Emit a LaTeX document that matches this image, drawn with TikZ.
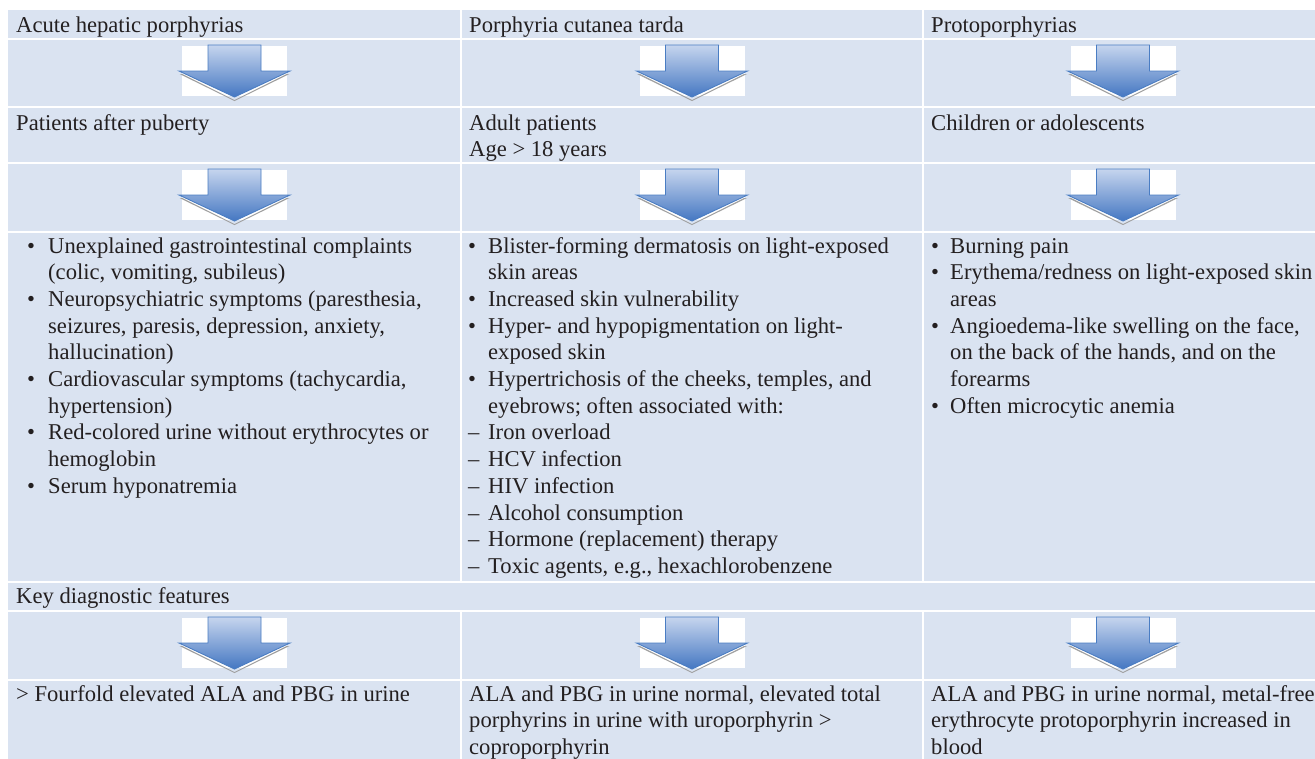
\documentclass[tikz,border=0pt]{standalone}
\usepackage{fontspec}
\setmainfont{Liberation Serif}
\definecolor{bg}{HTML}{DAE3F1}
\definecolor{ink}{HTML}{231F20}
\definecolor{arrline}{HTML}{4A7DC3}
\definecolor{arrtop}{HTML}{C6D5EE}
\definecolor{arrbot}{HTML}{4477C2}
\definecolor{shad}{HTML}{A0A0A0}
\tikzset{
  txt/.style={anchor=base west, inner sep=0pt, text=ink, font=\fontsize{22.6}{26.7}\selectfont},
  gridline/.style={draw=white, line width=2pt},
  whitebox/.style={fill=white},
  arrowbody/.style={draw=arrline, line width=0.9pt, line join=miter, top color=arrtop, bottom color=arrbot},
  arrowshadow/.style={fill=shad},
}
\newcommand\flowarrow[2]{%
  \fill[whitebox] (#1-52.5,#2+7) rectangle (#1+52.5,#2+57);
  \fill[arrowshadow] (#1-55,#2+35) -- (#1-52,#2+35) -- (#1,#2+61) -- (#1+52,#2+35) -- (#1+55,#2+35) -- (#1,#2+62) -- cycle;
  \path[arrowbody] (#1-26.5,#2+6) -- (#1+26.5,#2+6) -- (#1+26.5,#2+32) -- (#1+55.5,#2+32)
     -- (#1,#2+58) -- (#1-55.5,#2+32) -- (#1-26.5,#2+32) -- cycle;
}
\begin{document}
\begin{tikzpicture}[x=1pt,y=-1pt]
\useasboundingbox (0,0) rectangle (1315,758);
\begin{scope}
\clip (0,0) rectangle (1315,758);
% table background
\fill[bg] (8,10) rectangle (1340,780);
% horizontal grid lines
\foreach \yy in {39,107,163,232,582,611,680}
  {\draw[gridline] (8,\yy) -- (1340,\yy);}
% vertical grid lines
\foreach \xx in {461,923} {
  \draw[gridline] (\xx,10) -- (\xx,582);
  \draw[gridline] (\xx,611) -- (\xx,780);
}
% arrows
\foreach \cx in {234.5,692,1123} {
  \foreach \rowtop in {39,163,611} {
    \flowarrow{\cx}{\rowtop}
  }
}
\end{scope}

% row 1
\node[txt] (h1) at (16,32) {Acute hepatic porphyrias};
\node[txt] (h2) at (469,32) {Porphyria cutanea tarda};
\node[txt] (h3) at (931,32) {Protoporphyrias};
% row 3
\node[txt] (p1) at (16,130) {Patients after puberty};
\node[txt] (p2a) at (469,130) {Adult patients};
\node[txt] (p2b) at (469,156.7) {Age > 18 years};
\node[txt] (p3) at (931,130) {Children or adolescents};

% column 1 bullets
\node[txt] (a1b) at (27,253) {•};
\node[txt] (a1) at (48,253) {Unexplained gastrointestinal complaints};
\node[txt] (a2) at (48,253+26.7) {(colic, vomiting, subileus)};
\node[txt] (a3b) at (27,253+26.7*2) {•};
\node[txt] (a3) at (48,253+26.7*2) {Neuropsychiatric symptoms (paresthesia,};
\node[txt] (a4) at (48,253+26.7*3) {seizures, paresis, depression, anxiety,};
\node[txt] (a5) at (48,253+26.7*4) {hallucination)};
\node[txt] (a6b) at (27,253+26.7*5) {•};
\node[txt] (a6) at (48,253+26.7*5) {Cardiovascular symptoms (tachycardia,};
\node[txt] (a7) at (48,253+26.7*6) {hypertension)};
\node[txt] (a8b) at (27,253+26.7*7) {•};
\node[txt] (a8) at (48,253+26.7*7) {Red-colored urine without erythrocytes or};
\node[txt] (a9) at (48,253+26.7*8) {hemoglobin};
\node[txt] (a10b) at (27,253+26.7*9) {•};
\node[txt] (a10) at (48,253+26.7*9) {Serum hyponatremia};

% column 2 bullets
\node[txt] (b1b) at (468,253) {•};
\node[txt] (b1) at (488,253) {Blister-forming dermatosis on light-exposed};
\node[txt] (b2) at (488,253+26.7) {skin areas};
\node[txt] (b3b) at (468,253+26.7*2) {•};
\node[txt] (b3) at (488,253+26.7*2) {Increased skin vulnerability};
\node[txt] (b4b) at (468,253+26.7*3) {•};
\node[txt] (b4) at (488,253+26.7*3) {Hyper- and hypopigmentation on light-};
\node[txt] (b5) at (488,253+26.7*4) {exposed skin};
\node[txt] (b6b) at (468,253+26.7*5) {•};
\node[txt] (b6) at (488,253+26.7*5) {Hypertrichosis of the cheeks, temples, and};
\node[txt] (b7) at (488,253+26.7*6) {eyebrows; often associated with:};
\node[txt] (b8d) at (468,253+26.7*7) {–};
\node[txt] (b8) at (488,253+26.7*7) {Iron overload};
\node[txt] (b9d) at (468,253+26.7*8) {–};
\node[txt] (b9) at (488,253+26.7*8) {HCV infection};
\node[txt] (b10d) at (468,253+26.7*9) {–};
\node[txt] (b10) at (488,253+26.7*9) {HIV infection};
\node[txt] (b11d) at (468,253+26.7*10) {–};
\node[txt] (b11) at (488,253+26.7*10) {Alcohol consumption};
\node[txt] (b12d) at (468,253+26.7*11) {–};
\node[txt] (b12) at (488,253+26.7*11) {Hormone (replacement) therapy};
\node[txt] (b13d) at (468,253+26.7*12) {–};
\node[txt] (b13) at (488,253+26.7*12) {Toxic agents, e.g., hexachlorobenzene};

% column 3 bullets
\node[txt] (c1b) at (931,253) {•};
\node[txt] (c1) at (950,253) {Burning pain};
\node[txt] (c2b) at (931,253+26.7) {•};
\node[txt] (c2) at (950,253+26.7) {Erythema/redness on light-exposed skin};
\node[txt] (c3) at (950,253+26.7*2) {areas};
\node[txt] (c4b) at (931,253+26.7*3) {•};
\node[txt] (c4) at (950,253+26.7*3) {Angioedema-like swelling on the face,};
\node[txt] (c5) at (950,253+26.7*4) {on the back of the hands, and on the};
\node[txt] (c6) at (950,253+26.7*5) {forearms};
\node[txt] (c7b) at (931,253+26.7*6) {•};
\node[txt] (c7) at (950,253+26.7*6) {Often microcytic anemia};

% key row
\node[txt] (key) at (16,603) {Key diagnostic features};

% last row
\node[txt] (d1) at (16,701) {> Fourfold elevated ALA and PBG in urine};
\node[txt] (d2a) at (469,701) {ALA and PBG in urine normal, elevated total};
\node[txt] (d2b) at (469,701+26.7) {porphyrins in urine with uroporphyrin >};
\node[txt] (d2c) at (469,701+26.7*2) {coproporphyrin};
\node[txt] (d3a) at (931,701) {ALA and PBG in urine normal, metal-free};
\node[txt] (d3b) at (931,701+26.7) {erythrocyte protoporphyrin increased in};
\node[txt] (d3c) at (931,701+26.7*2) {blood};
\end{tikzpicture}
\end{document}
